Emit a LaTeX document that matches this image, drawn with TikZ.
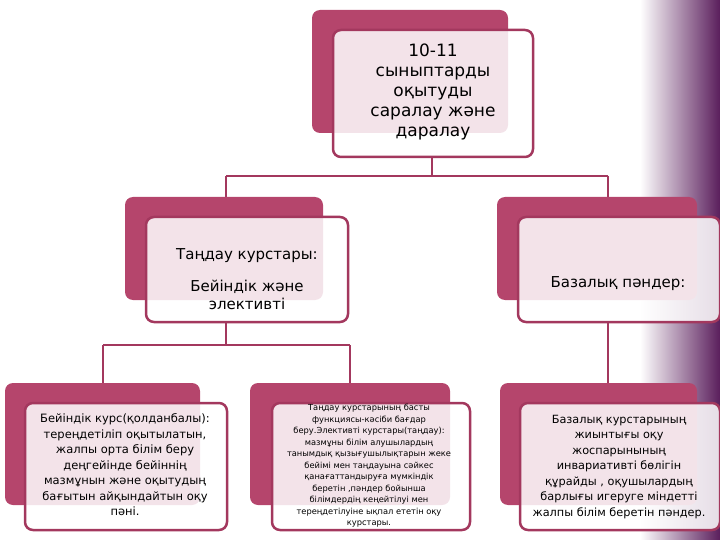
\documentclass[tikz,border=0pt]{standalone}
\usepackage{fontspec}
\setmainfont{DejaVu Sans}
\definecolor{crim}{HTML}{B5456C}
\definecolor{edge}{HTML}{A3385E}
\definecolor{purp}{HTML}{5A1E5C}
\begin{document}
\begin{tikzpicture}[x=1pt,y=-1pt,
  back/.style={fill=crim,rounded corners=8pt},
  front/.style={draw=edge,line width=2.5pt,fill=white,fill opacity=0.85,text opacity=1,rounded corners=8pt},
  conn/.style={draw=edge,line width=2.8pt},
  txt/.style={align=center,text=black,inner sep=0pt}]
\useasboundingbox (0,0) rectangle (720,540);
\shade[left color=white,right color=purp] (640,0) rectangle (720,540);
% connectors
\coordinate (t0) at (432,157); \coordinate (t1) at (432,176);
\coordinate (l1) at (226,176); \coordinate (r1) at (608,176);
\coordinate (l2) at (226,200); \coordinate (r2) at (608,200);
\draw[conn] (t0)--(t1); \draw[conn] (l1)--(r1);
\draw[conn] (l1)--(l2); \draw[conn] (r1)--(r2);
\coordinate (m0) at (226,322); \coordinate (m1) at (226,345);
\coordinate (a1) at (103,345); \coordinate (b1) at (350,345);
\coordinate (a2) at (103,386); \coordinate (b2) at (350,386);
\coordinate (n0) at (608,322); \coordinate (n2) at (608,386);
\draw[conn] (m0)--(m1); \draw[conn] (a1)--(b1);
\draw[conn] (a1)--(a2); \draw[conn] (b1)--(b2); \draw[conn] (n0)--(n2);
% boxes
\path[back] (312,10) rectangle (508,133);
\path[front] (333,30) rectangle (533,157);
\node[txt,font=\fontsize{17}{20}\selectfont] (top) at (433,92) {10-11\\сыныптарды\\оқытуды\\саралау және\\даралау};
\path[back] (125,197) rectangle (323,300);
\path[front] (146,217) rectangle (348,322);
\node[txt,font=\fontsize{15}{18}\selectfont] (ml) at (247,256) {Таңдау курстары:};
\node[txt,font=\fontsize{15}{18}\selectfont] (ml2) at (247,295) {Бейіндік және\\элективті};
\path[back] (497,197) rectangle (697,300);
\path[front] (518,217) rectangle (720,322);
\node[txt,font=\fontsize{15}{18}\selectfont] (mr) at (618,284) {Базалық пәндер:};
\path[back] (5,383) rectangle (200,505);
\path[front] (25,403) rectangle (227,530);
\node[txt,font=\fontsize{11.5}{15.5}\selectfont] (bl) at (125,465) {Бейіндік курс(қолданбалы):\\тереңдетіліп оқытылатын,\\жалпы орта білім беру\\деңгейінде бейіннің\\мазмұнын және оқытудың\\бағытын айқындайтын оқу\\пәні.};
\path[back] (250,383) rectangle (450,505);
\path[front] (272,403) rectangle (470,530);
\node[txt,font=\fontsize{8.3}{11.5}\selectfont] (bm) at (369,466) {Таңдау курстарының басты\\функциясы-кәсіби бағдар\\беру.Элективті курстары(таңдау):\\мазмұны білім алушылардың\\танымдық қызығушылықтарын жеке\\бейімі мен таңдауына сәйкес\\қанағаттандыруға мүмкіндік\\беретін ,пәндер бойынша\\білімдердің кеңейтілуі мен\\тереңдетілуіне ықпал ететін  оқу\\курстары.};
\path[back] (500,383) rectangle (697,505);
\path[front] (520,403) rectangle (720,530);
\node[txt,font=\fontsize{11.3}{15.5}\selectfont] (br) at (619,467) {Базалық курстарының\\жиынтығы оқу\\жоспарынының\\инвариативті бөлігін\\құрайды , оқушылардың\\барлығы игеруге  міндетті\\жалпы білім беретін пәндер.};
\end{tikzpicture}
\end{document}
